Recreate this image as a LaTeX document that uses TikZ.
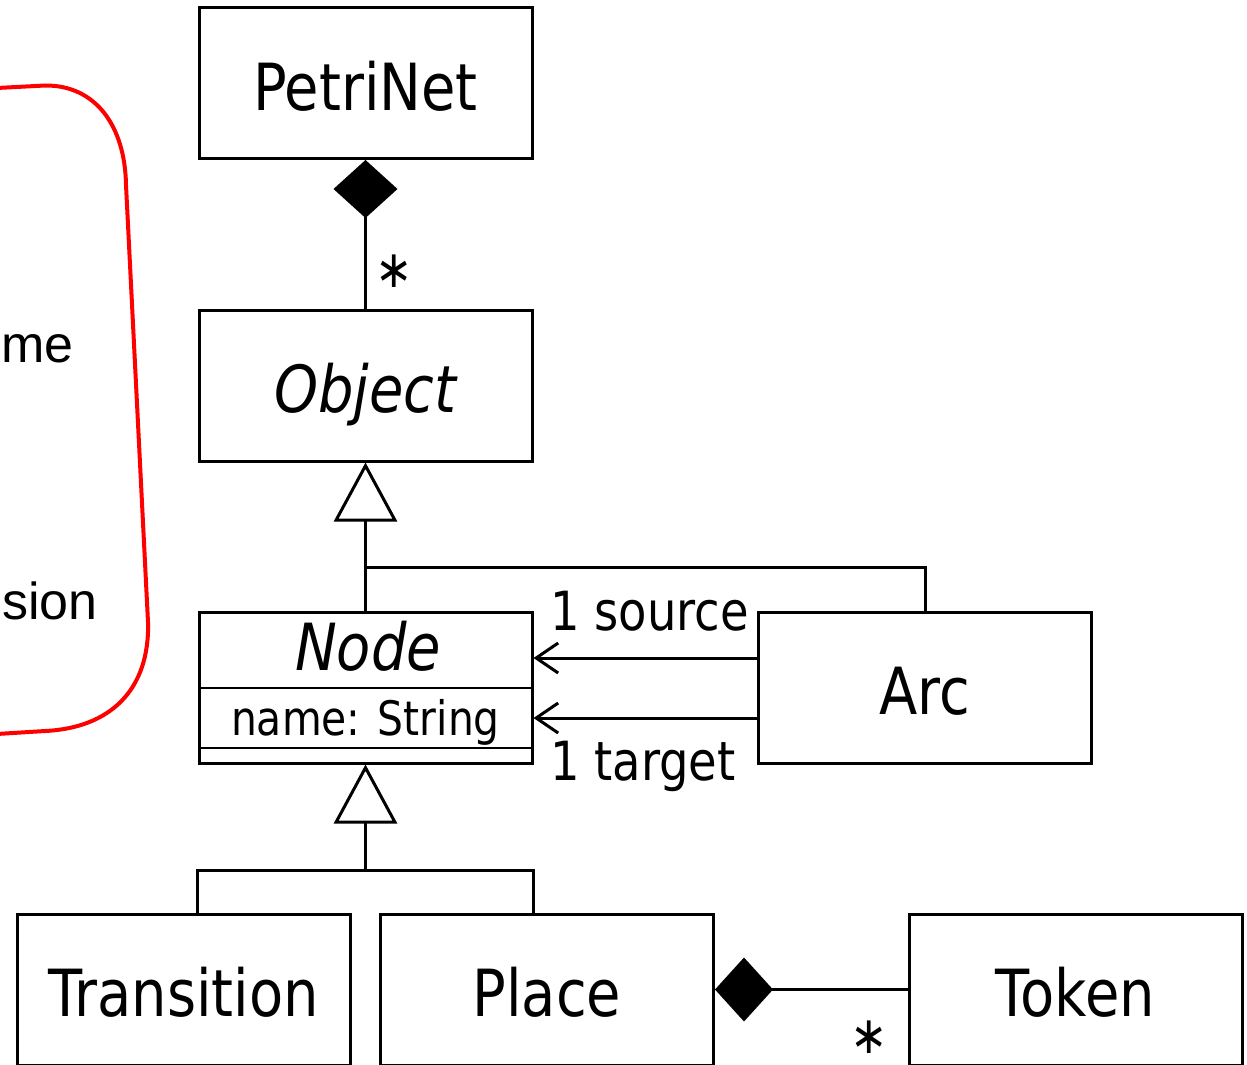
\documentclass[tikz,border=0pt]{standalone}
\usepackage{fontspec}
\setmainfont{DejaVu Sans}[FakeStretch=0.86]
\newfontfamily\redfont{Liberation Sans}
\usetikzlibrary{arrows.meta}
\begin{document}
\begin{tikzpicture}[x=1pt,y=-1pt,
  cls/.style={draw, line width=3pt, minimum width=333pt, minimum height=151pt,
    inner sep=0pt, text height=54pt, text depth=0pt, font=\fontsize{65}{65}\selectfont},
  lbl/.style={inner sep=0pt, font=\fontsize{54}{54}\selectfont},
  mult/.style={inner sep=0pt, font=\fontsize{52}{52}\selectfont},
  conn/.style={line width=3pt},
  comp/.style={conn, -{Diamond[length=58pt,width=64pt]}},
  gen/.style={conn, -{Triangle[open,length=59pt,width=63pt]}},
  assoc/.style={conn, -{Straight Barb[length=22pt,width=30pt]}},
  redtxt/.style={inner sep=0pt, font=\redfont\fontsize{52}{52}\selectfont}
]
\useasboundingbox (0,0) rectangle (1247,1065);

% red bracket
\draw[red, line width=4pt] (-3,88) -- (45,85.5)
  .. controls (95,85) and (125,125) .. (126,185)
  -- (148,622)
  .. controls (150,690) and (110,728) .. (45,731) -- (-3,734);
\node[redtxt, anchor=base east] (me) at (74,362) {me};
\node[redtxt, anchor=base east] (sion) at (98,619) {sion};

% classes
\node[cls] (petrinet) at (365.5,83) {PetriNet};
\node[cls] (object) at (365.5,385.5) {\itshape Object};
\node[cls] (node) at (365.5,687.5) {};
\node[cls] (arc) at (925,687.5) {Arc};
\node[cls] (transition) at (183.5,989.5) {Transition};
\node[cls] (place) at (547,989.5) {Place};
\node[cls] (token) at (1075.5,989.5) {Token};

% Node compartments
\node[inner sep=0pt, anchor=base, font=\fontsize{65}{65}\selectfont\itshape] (nodename) at (368,670) {Node};
\node[inner sep=0pt, anchor=base, font=\fontsize{47.5}{47.5}\selectfont] (attr) at (365.5,735) {name: String};
\draw[line width=2pt] (node.west |- 0,688) -- (node.east |- 0,688);
\draw[line width=2pt] (node.west |- 0,748) -- (node.east |- 0,748);

% composition PetriNet - Object
\draw[comp] (object.north) -- (petrinet.south);
\node[mult, anchor=base west] (star1) at (375,287) {∗};

% generalization Node/Arc -> Object
\coordinate (jtop) at (node.north |- 0,567);
\draw[gen] (node.north) -- (object.south);
\draw[conn] (jtop) -| (arc.north);

% associations Arc -> Node
\draw[assoc] (arc.west |- 0,658) -- (node.east |- 0,658);
\draw[assoc] (arc.west |- 0,718) -- (node.east |- 0,718);
\node[lbl, anchor=base west] (src) at (550,630) {1 source};
\node[lbl, anchor=base west] (tgt) at (550,780) {1 target};

% generalization Transition/Place -> Node
\coordinate (jbot) at (node.south |- 0,870);
\draw[gen] (jbot) -- (node.south);
\draw[conn] (node.west |- transition.north) |- (jbot) -| (node.east |- place.north);

% composition Place - Token
\draw[comp] (token.west) -- (place.east);
\node[mult, anchor=base west] (star2) at (850,1053) {∗};
\end{tikzpicture}
\end{document}
